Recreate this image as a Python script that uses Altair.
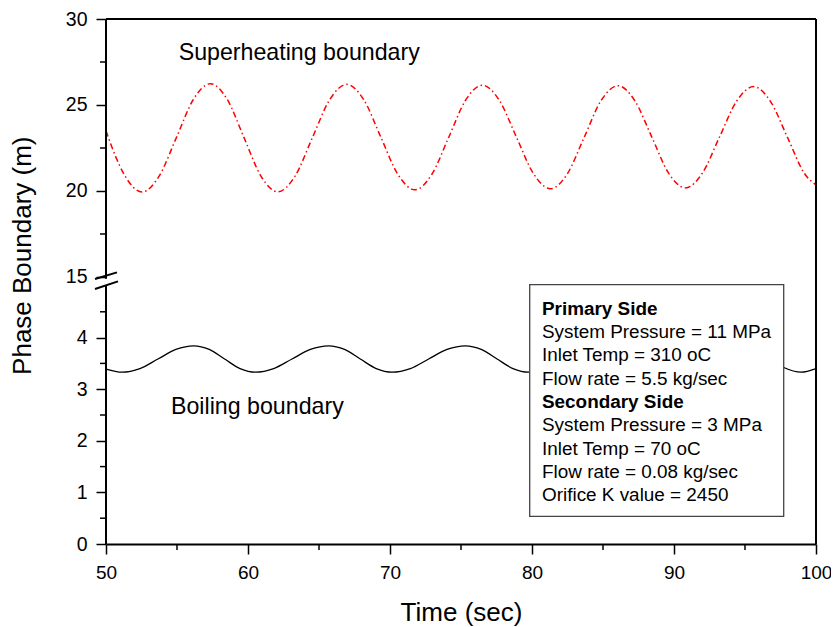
import altair as alt
import pandas as pd

FONT = "Liberation Sans"

# ---- data ----
# Superheating boundary (red dash-dot)
sh_time = [50.0, 50.65, 51.3, 52.54, 53.75, 54.95, 56.15, 57.35, 58.54, 59.72, 60.91,
           62.1, 63.31, 64.52, 65.74, 66.95, 68.15, 69.35, 70.55, 71.75, 72.94, 74.13,
           75.31, 76.5, 77.7, 78.9, 80.1, 81.3, 82.49, 83.68, 84.86, 86.05, 87.24,
           88.43, 89.61, 90.8, 92.0, 93.2, 94.4, 95.6, 96.8, 98.0, 99.2, 100.0]
sh_value = [23.5, 22.06, 20.93, 19.94, 20.88, 23.09, 25.32, 26.24, 25.32, 23.1, 20.87,
            19.95, 20.86, 23.07, 25.29, 26.2, 25.31, 23.14, 20.97, 20.07, 20.96, 23.11,
            25.26, 26.15, 25.27, 23.14, 21.01, 20.13, 21.0, 23.13, 25.25, 26.12, 25.25,
            23.15, 21.05, 20.18, 21.04, 23.13, 25.21, 26.07, 25.2, 23.1, 21.0, 20.35]

# Boiling boundary (black solid)
bl_time = [50.0, 51.13, 52.39, 53.66, 54.92, 56.18, 57.27, 58.35, 59.44, 60.52,
           61.81, 63.1, 64.39, 65.68, 66.8, 67.91, 69.03, 70.14, 71.43, 72.72,
           74.02, 75.31, 76.43, 77.54, 78.66, 79.75, 81.04, 82.33, 83.6, 84.9,
           86.0, 87.1, 88.2, 89.35, 90.64, 91.93, 93.2, 94.5, 95.6, 96.7, 97.73,
           98.95, 100.0]
bl_value = [3.39, 3.33, 3.40, 3.585, 3.77, 3.84, 3.77, 3.585, 3.40, 3.33,
            3.40, 3.585, 3.77, 3.84, 3.77, 3.585, 3.40, 3.33, 3.40, 3.585,
            3.77, 3.84, 3.77, 3.585, 3.40, 3.33, 3.40, 3.585, 3.77, 3.84,
            3.77, 3.585, 3.40, 3.33, 3.40, 3.585, 3.77, 3.84, 3.77, 3.59, 3.42,
            3.33, 3.40]

x_major_ticks = [50, 60, 70, 80, 90, 100]
x_minor_ticks = [55, 65, 75, 85, 95]
y_major_ticks = [0, 1, 2, 3, 4, 15, 20, 25, 30]
y_minor_ticks = [0.5, 1.5, 2.5, 3.5, 4.5, 17.5, 22.5, 27.5]

box_lines = ["Primary Side", "System Pressure = 11 MPa", "Inlet Temp = 310 oC",
             "Flow rate = 5.5 kg/sec", "Secondary Side", "System Pressure = 3 MPa",
             "Inlet Temp = 70 oC", "Flow rate = 0.08 kg/sec", "Orifice K value = 2450"]
box_bold = [True, False, False, False, True, False, False, False, False]

# ---- layout ----
W, H = 710, 525
x_scale = alt.Scale(domain=[50, 100], nice=False, zero=False)
# broken axis: lower segment 0..5, upper segment 14.9..30
y_scale = alt.Scale(domain=[0, 5.0, 14.9, 30], range=[H, 267.0, 259.7, 0], nice=False, zero=False)

x_axis = alt.Axis(
    values=x_major_ticks, title="Time (sec)", grid=False, labelFlush=False,
    tickSize=10, labelPadding=9, labelFontSize=19, labelFont=FONT, labelColor="black",
    tickColor="black", tickWidth=1.5, domainColor="black", domainWidth=2,
    titleFont=FONT, titleFontSize=26, titleFontWeight="normal", titleColor="black",
    titleBaseline="alphabetic", titleX=355, titleY=76.4, titleAlign="center",
)
y_axis = alt.Axis(
    values=y_major_ticks, title="Phase Boundary (m)", grid=False, domain=False,
    labelFlush=False,
    tickSize=10, labelPadding=9, labelFontSize=19.5, labelFont=FONT, labelColor="black",
    tickColor="black", tickWidth=1.5,
    titleFont=FONT, titleFontSize=26, titleFontWeight="normal", titleColor="black",
    titleBaseline="alphabetic", titleX=-75.6, titleY=236.2, titleAlign="center",
    titleAngle=270,
)

sh_df = pd.DataFrame({"t": sh_time, "v": sh_value})
bl_df = pd.DataFrame({"t": bl_time, "v": bl_value})
one = pd.DataFrame({"a": [0]})

sh = alt.Chart(sh_df).mark_line(
    color="#ff0000", strokeWidth=1.5, strokeDash=[6, 3, 1.5, 3], interpolate="monotone"
).encode(
    x=alt.X("t:Q", scale=x_scale, axis=x_axis),
    y=alt.Y("v:Q", scale=y_scale, axis=y_axis),
)

bl = alt.Chart(bl_df).mark_line(
    color="black", strokeWidth=1.3, interpolate="monotone"
).encode(
    x=alt.X("t:Q", scale=x_scale, axis=x_axis),
    y=alt.Y("v:Q", scale=y_scale, axis=y_axis),
)

# minor ticks (outward, shorter) through the shared scales
x_minor = alt.Chart(pd.DataFrame({"m": x_minor_ticks})).mark_rule(
    color="black", strokeWidth=1.5).encode(
    x=alt.X("m:Q", scale=x_scale, axis=x_axis), y=alt.value(H), y2=alt.value(H + 6))
y_minor = alt.Chart(pd.DataFrame({"m": y_minor_ticks})).mark_rule(
    color="black", strokeWidth=1.5).encode(
    y=alt.Y("m:Q", scale=y_scale, axis=y_axis), x=alt.value(0), x2=alt.value(-6))


def seg(x0, x1, y0, y1):
    return alt.Chart(one).mark_rule(color="black", strokeWidth=2).encode(
        x=alt.X(datum=x0, type="quantitative", scale=x_scale, axis=x_axis),
        x2=alt.X2(datum=x1),
        y=alt.Y(datum=y0, type="quantitative", scale=y_scale, axis=y_axis),
        y2=alt.Y2(datum=y1),
    )


frame = [
    seg(50, 50, 0, 5.0),
    seg(50, 50, 14.9, 30),
    seg(100, 100, 0, 30),
    seg(50, 100, 30, 30),
]

slash1 = alt.Chart(one).mark_rule(color="black", strokeWidth=2).encode(
    x=alt.value(-11), x2=alt.value(11), y=alt.value(260.0), y2=alt.value(253.4))
slash2 = alt.Chart(one).mark_rule(color="black", strokeWidth=2).encode(
    x=alt.value(-11), x2=alt.value(12), y=alt.value(270.0), y2=alt.value(262.4))

box = alt.Chart(one).mark_rect(fill="white", stroke="#444444", strokeWidth=1.3).encode(
    x=alt.value(423.7), x2=alt.value(677.7), y=alt.value(265.7), y2=alt.value(497.4))

box_text_layers = []
for i, (line, bold) in enumerate(zip(box_lines, box_bold)):
    box_text_layers.append(
        alt.Chart(one).mark_text(
            align="left", baseline="alphabetic", font=FONT, fontSize=18.9,
            fontWeight="bold" if bold else "normal", color="black"
        ).encode(x=alt.value(436), y=alt.value(295.7 + 23.3 * i), text=alt.value(line))
    )

lab_sh = alt.Chart(one).mark_text(
    align="left", baseline="alphabetic", font=FONT, fontSize=23.2, color="black"
).encode(x=alt.value(72.7), y=alt.value(40.7), text=alt.value("Superheating boundary"))
lab_bl = alt.Chart(one).mark_text(
    align="left", baseline="alphabetic", font=FONT, fontSize=23.2, color="black"
).encode(x=alt.value(65), y=alt.value(394.7), text=alt.value("Boiling boundary"))

chart = alt.layer(
    sh, bl, box, *box_text_layers, lab_sh, lab_bl, x_minor, y_minor,
    *frame, slash1, slash2
).properties(
    width=W, height=H,
    autosize=alt.AutoSizeParams(type="none"),
    padding={"left": 98, "top": 11, "right": 15, "bottom": 90},
).configure_view(stroke=None)

chart.save("out.html", embed_options={"renderer": "svg", "actions": False})
